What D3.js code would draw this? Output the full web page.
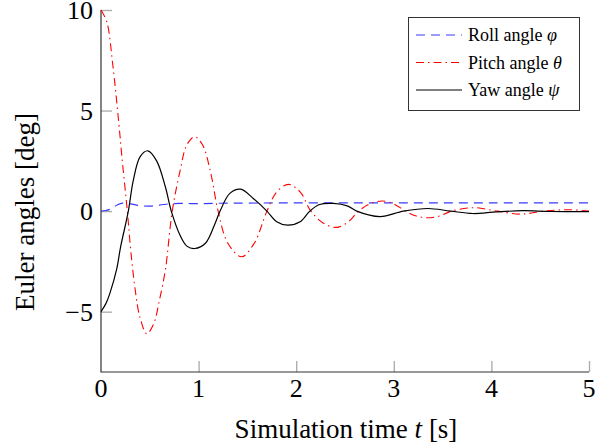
<!DOCTYPE html>
<html>
<head>
<meta charset="utf-8">
<script src="https://cdn.jsdelivr.net/npm/d3@7"></script>
<style>
  body { margin: 0; background: #fff; }
</style>
</head>
<body>
<div class="svg-content"></div>
<script>

// values (time in s, angle in deg)
var rollT   = [0, 0.05, 0.11, 0.17, 0.22, 0.30, 0.40, 0.50, 0.60, 0.72, 0.85, 1.0, 1.2, 1.5, 2.0, 3.0, 4.0, 5.0];
var rollV   = [0, 0.03, 0.13, 0.32, 0.40, 0.36, 0.27, 0.25, 0.30, 0.37, 0.38, 0.37, 0.39, 0.40, 0.41, 0.41, 0.41, 0.41];

var pitchT  = [0, 0.06, 0.12, 0.18, 0.22, 0.27, 0.30, 0.35, 0.40, 0.47, 0.54, 0.60, 0.66, 0.73, 0.81, 0.88, 0.96, 1.04, 1.12, 1.20,
               1.30, 1.44, 1.57, 1.70, 1.80, 1.92, 2.04, 2.15, 2.28, 2.41, 2.53, 2.64, 2.76, 2.88, 3.00, 3.12, 3.23, 3.35, 3.47, 3.59,
               3.82, 4.06, 4.30, 4.54, 4.78, 5.0];
var pitchV  = [10, 9.4, 7.3, 4.5, 2.4, 0, -1.7, -3.9, -5.3, -6.1, -5.6, -4.4, -2.9, 0, 2.0, 3.3, 3.7, 3.3, 2.0, 0,
               -1.6, -2.27, -1.6, 0, 0.95, 1.33, 0.96, 0, -0.6, -0.81, -0.55, 0, 0.37, 0.5, 0.36, 0, -0.24, -0.33, -0.24, 0,
               0.17, 0, -0.15, 0, 0.07, 0.0];

var yawT    = [0, 0.05, 0.09, 0.16, 0.20, 0.28, 0.33, 0.40, 0.48, 0.57, 0.66, 0.72, 0.81, 0.88, 0.96, 1.07, 1.17, 1.22, 1.32, 1.43,
               1.56, 1.70, 1.80, 1.91, 2.04, 2.14, 2.24, 2.38, 2.53, 2.62, 2.86, 3.10, 3.35, 3.58, 3.81, 4.05, 4.32, 4.60, 5.0];
var yawV    = [-5.0, -4.6, -4.1, -2.9, -1.8, 0, 1.5, 2.7, 3.0, 2.5, 1.2, 0, -1.2, -1.74, -1.86, -1.6, -0.6, 0, 0.88, 1.09,
               0.63, 0, -0.53, -0.70, -0.53, 0, 0.33, 0.38, 0.25, 0, -0.27, 0, 0.13, 0, -0.12, -0.04, 0.02, -0.02, -0.03];

var xTicks  = [0, 1, 2, 3, 4, 5];
var yTicks  = [-5, 0, 5, 10];
var legendLabels = ["Roll angle ", "Pitch angle ", "Yaw angle "];
var legendSymbols = ["\u03C6", "\u03B8", "\u03C8"];

var width = 615;
var height = 447;
var serif = "'Liberation Serif', 'Times New Roman', Times, 'DejaVu Serif', serif";

var svg = d3.select(".svg-content")
  .append("svg")
  .attr("width", width)
  .attr("height", height)
  .attr("font-family", serif);

var x = d3.scaleLinear().domain([0, 5]).range([101, 589]);
var y = d3.scaleLinear().domain([-8, 10]).range([372, 10]);

// ticks (inside, grey)
svg.append("g")
  .attr("transform", "translate(0,372)")
  .call(d3.axisTop(x).tickValues(xTicks.filter(function(d) { return d > 0; })).tickSize(11).tickFormat(""))
  .call(function(g) {
    g.select(".domain").remove();
    g.selectAll("line").attr("stroke", "#aaa").attr("stroke-width", 1.3);
  });

svg.append("g")
  .attr("transform", "translate(101,0)")
  .call(d3.axisRight(y).tickValues(yTicks).tickSize(11).tickFormat(""))
  .call(function(g) {
    g.select(".domain").remove();
    g.selectAll("line").attr("stroke", "#aaa").attr("stroke-width", 1.3);
  });

// axis lines
svg.append("path")
  .attr("d", "M" + x(0) + "," + y(10) + "V" + y(-8) + "H" + x(5))
  .attr("fill", "none")
  .attr("stroke", "#333")
  .attr("stroke-width", 1.2);

// tick labels
svg.selectAll(".xlab")
  .data(xTicks)
  .enter().append("text")
  .attr("class", "xlab")
  .attr("x", function(d) { return x(d); })
  .attr("y", 397)
  .attr("text-anchor", "middle")
  .attr("font-size", "26px")
  .text(function(d) { return d; });

svg.selectAll(".ylab")
  .data(yTicks)
  .enter().append("text")
  .attr("class", "ylab")
  .attr("x", 93)
  .attr("y", function(d) { return y(d) + 9; })
  .attr("text-anchor", "end")
  .attr("font-size", "26px")
  .text(function(d) { return d < 0 ? "\u2212" + Math.abs(d) : d; });

// axis titles
var xt = svg.append("text")
  .attr("x", 346)
  .attr("y", 438)
  .attr("text-anchor", "middle")
  .attr("font-size", "27px");
xt.append("tspan").text("Simulation time ");
xt.append("tspan").attr("font-style", "italic").text("t");
xt.append("tspan").text(" [s]");

svg.append("text")
  .attr("transform", "translate(34,212) rotate(-90)")
  .attr("text-anchor", "middle")
  .attr("font-size", "27px")
  .text("Euler angles [deg]");

// curves
function zip(ts, vs) {
  return ts.map(function(t, i) { return [t, vs[i]]; });
}

var line = d3.line()
  .x(function(d) { return x(d[0]); })
  .y(function(d) { return y(d[1]); })
  .curve(d3.curveCatmullRom.alpha(0.5));

var series = [
  {data: zip(rollT, rollV), color: "#3a3aff", dash: "9,6", w: 1.2},
  {data: zip(pitchT, pitchV), color: "#ff0000", dash: "8,4,1.5,4", w: 1.1},
  {data: zip(yawT, yawV), color: "#000", dash: null, w: 1.2}
];

svg.selectAll(".curve")
  .data(series)
  .enter().append("path")
  .attr("class", "curve")
  .attr("fill", "none")
  .attr("stroke", function(d) { return d.color; })
  .attr("stroke-width", function(d) { return d.w; })
  .attr("stroke-dasharray", function(d) { return d.dash; })
  .attr("d", function(d) { return line(d.data); });

// legend
var legend = svg.append("g");

legend.append("rect")
  .attr("x", 408.5)
  .attr("y", 17.5)
  .attr("width", 171)
  .attr("height", 93)
  .attr("fill", "#fff")
  .attr("stroke", "#333")
  .attr("stroke-width", 1);

var rows = legend.selectAll(".row")
  .data(series)
  .enter().append("g")
  .attr("class", "row")
  .attr("transform", function(d, i) { return "translate(0," + (35 + i * 27.5) + ")"; });

rows.append("line")
  .attr("x1", 416)
  .attr("x2", 462)
  .attr("stroke", function(d) { return d.color; })
  .attr("stroke-width", function(d) { return d.w; })
  .attr("stroke-dasharray", function(d) { return d.dash; });

var lt = rows.append("text")
  .attr("x", 468)
  .attr("y", 6)
  .attr("font-size", "18px");
lt.append("tspan").text(function(d, i) { return legendLabels[i]; });
lt.append("tspan").attr("font-style", "italic").text(function(d, i) { return legendSymbols[i]; });

</script>
</body>
</html>
